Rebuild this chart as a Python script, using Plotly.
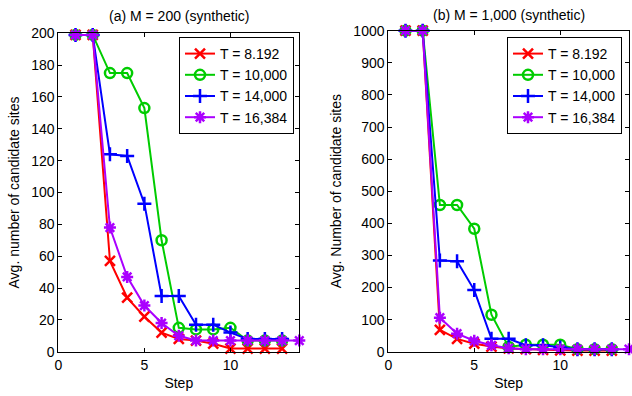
import plotly.graph_objects as go

labels = ["T = 8.192", "T = 10,000", "T = 14,000", "T = 16,384"]
colors = ["#ff0000", "#00cc00", "#0000ff", "#aa00ff"]
symbols = ["x-thin-open", "circle-open", "cross-thin-open", "asterisk-open"]

steps13 = [1, 2, 3, 4, 5, 6, 7, 8, 9, 10, 11, 12, 13]
steps14 = [1, 2, 3, 4, 5, 6, 7, 8, 9, 10, 11, 12, 13, 14]

# (a) M = 200
red_a = [199, 199, 57, 34, 22, 12, 8, 7, 5, 2, 2, 2, 2]
green_a = [199, 199, 175, 175, 153, 70, 15, 14, 14, 15, 7, 7, 7]
blue_a = [199, 199, 124, 123, 93, 35, 35, 17, 17, 12, 8, 8, 8]
purple_a = [199, 199, 78, 47, 29, 18, 10, 7, 7, 7, 7, 7, 7, 7]

# (b) M = 1,000
red_b = [1000, 1000, 68, 40, 25, 16, 10, 8, 6, 4, 3, 3, 3]
green_b = [1000, 1000, 457, 457, 383, 115, 15, 22, 22, 22, 8, 8, 8]
blue_b = [1000, 1000, 284, 282, 192, 40, 40, 20, 20, 13, 8, 8, 8]
purple_b = [1000, 1000, 106, 56, 34, 20, 11, 8, 8, 8, 8, 8, 8, 8]

series_a = [(steps13, red_a), (steps13, green_a), (steps13, blue_a), (steps14, purple_a)]
series_b = [(steps13, red_b), (steps13, green_b), (steps13, blue_b), (steps14, purple_b)]

FONT = "Liberation Sans, Arial, Helvetica, sans-serif"
FS = 14
W, H = 632, 396

fig = go.Figure()

for i, (xs, ys) in enumerate(series_a):
    fig.add_trace(go.Scatter(
        x=xs, y=ys, mode="lines+markers", name=labels[i],
        line=dict(color=colors[i], width=2),
        marker=dict(symbol=symbols[i], size=10, color=colors[i],
                    line=dict(color=colors[i], width=2.5)),
        xaxis="x", yaxis="y", legend="legend", cliponaxis=False))

for i, (xs, ys) in enumerate(series_b):
    fig.add_trace(go.Scatter(
        x=xs, y=ys, mode="lines+markers", name=labels[i],
        line=dict(color=colors[i], width=2),
        marker=dict(symbol=symbols[i], size=10, color=colors[i],
                    line=dict(color=colors[i], width=2.5)),
        xaxis="x2", yaxis="y2", legend="legend2", cliponaxis=False))

def px_x(p):
    return p / W

def px_y(p):
    return 1 - p / H

axis_common = dict(
    showline=True, linecolor="black", linewidth=1, mirror="ticks",
    ticks="inside", ticklen=4, tickcolor="black", tickwidth=1,
    showgrid=False, zeroline=False,
    tickfont=dict(family=FONT, size=FS, color="black"),
    automargin=False,
)
title_font = dict(family=FONT, size=FS, color="black")

fig.update_layout(
    width=W, height=H,
    template="none",
    paper_bgcolor="white", plot_bgcolor="white",
    margin=dict(l=0, r=0, t=0, b=0),
    font=dict(family=FONT, size=FS, color="black"),
    xaxis=dict(domain=[px_x(58.3), px_x(299.3)], range=[0, 14], tickvals=[0, 5, 10],
               anchor="y", title=dict(text="Step", standoff=6, font=title_font), **axis_common),
    yaxis=dict(domain=[px_y(351.7), px_y(33.3)], range=[0, 200], dtick=20,
               anchor="x", title=dict(text="Avg. number of candidate sites", standoff=8, font=title_font),
               **axis_common),
    xaxis2=dict(domain=[px_x(388.3), px_x(629)], range=[0, 14], tickvals=[0, 5, 10],
                anchor="y2", title=dict(text="Step", standoff=6, font=title_font), **axis_common),
    yaxis2=dict(domain=[px_y(351.7), px_y(30.7)], range=[0, 1000], dtick=100,
                anchor="x2", title=dict(text="Avg. Number of candidate sites", standoff=8, font=title_font),
                **axis_common),
    legend=dict(x=px_x(294), y=px_y(37), xanchor="right", yanchor="top",
                bgcolor="white", bordercolor="black", borderwidth=1,
                font=dict(family=FONT, size=FS), tracegroupgap=0, itemwidth=30),
    legend2=dict(x=px_x(622), y=px_y(37), xanchor="right", yanchor="top",
                 bgcolor="white", bordercolor="black", borderwidth=1,
                 font=dict(family=FONT, size=FS), tracegroupgap=0, itemwidth=30),
    annotations=[
        dict(text="(a) M = 200 (synthetic)", x=(px_x(58.3) + px_x(299.3)) / 2, y=px_y(16),
             xref="paper", yref="paper", showarrow=False, xanchor="center", yanchor="middle",
             font=dict(family=FONT, size=FS)),
        dict(text="(b) M = 1,000 (synthetic)", x=(px_x(388.3) + px_x(629)) / 2, y=px_y(14.5),
             xref="paper", yref="paper", showarrow=False, xanchor="center", yanchor="middle",
             font=dict(family=FONT, size=FS)),
    ],
)

fig.write_html("out.html")
